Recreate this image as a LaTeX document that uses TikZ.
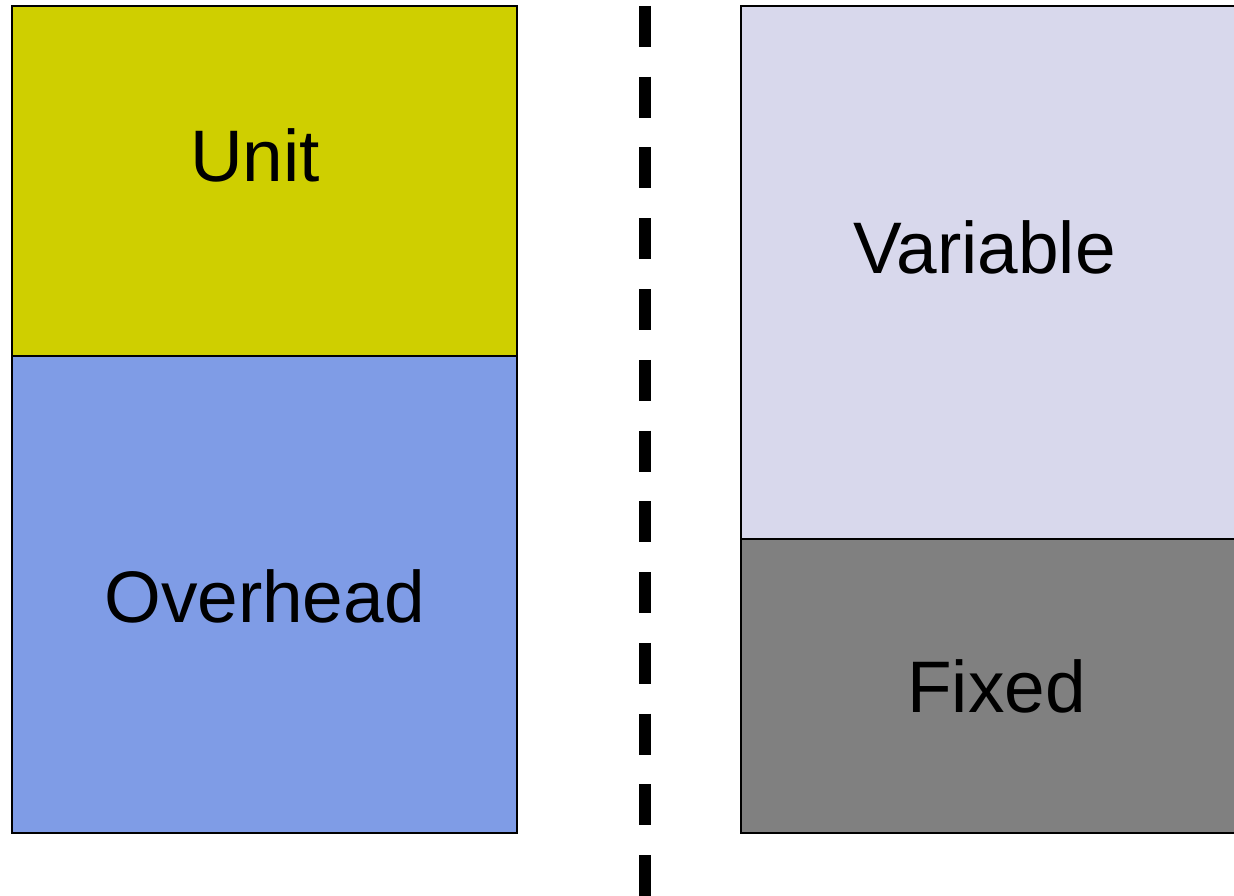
\documentclass[tikz,border=0pt]{standalone}
\usepackage{fontspec}
\setmainfont{Liberation Sans}
\definecolor{unitcol}{RGB}{207,207,0}
\definecolor{overcol}{RGB}{127,156,230}
\definecolor{varcol}{RGB}{216,216,236}
\definecolor{fixcol}{RGB}{128,128,128}
\tikzset{
  costbox/.style={draw=black, line width=2pt},
  costlabel/.style={anchor=base, inner sep=0pt, font=\fontsize{73}{80}\selectfont},
  divider/.style={line width=12pt, dash pattern=on 41pt off 29.75pt, line cap=butt}
}
\begin{document}
\begin{tikzpicture}[x=1pt, y=-1pt]
  \useasboundingbox (0,0) rectangle (1234,896);
  \clip (0,0) rectangle (1234,896);
  % left column: unit over overhead
  \filldraw[costbox, fill=unitcol] (12,6) rectangle (517,356);
  \filldraw[costbox, fill=overcol] (12,356) rectangle (517,833);
  % right column: variable over fixed
  \filldraw[costbox, fill=varcol] (741,6) rectangle (1250,539);
  \filldraw[costbox, fill=fixcol] (741,539) rectangle (1250,833);
  % labels
  \node[costlabel] (unit) at (255,182) {Unit};
  \node[costlabel] (overhead) at (264.5,622) {Overhead};
  \node[costlabel] (variable) at (984.5,273) {Variable};
  \node[costlabel] (fixed) at (996.5,712) {Fixed};
  % dashed separator
  \coordinate (septop) at (645,6);
  \coordinate (sepbot) at (645,900);
  \draw[divider] (septop) -- (sepbot);
\end{tikzpicture}
\end{document}
